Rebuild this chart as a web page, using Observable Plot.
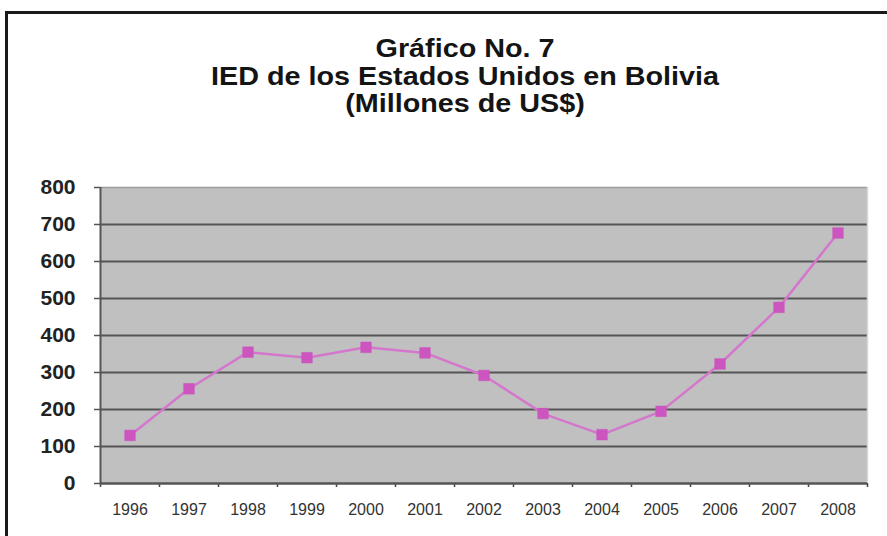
<!DOCTYPE html>
<html>
<head>
<meta charset="utf-8">
<script src="https://cdn.jsdelivr.net/npm/d3@7"></script>
<script src="https://cdn.jsdelivr.net/npm/@observablehq/plot@0.6"></script>
<style>
  html, body { margin: 0; padding: 0; background: #fff; overflow: hidden; }
  #wrap { position: relative; width: 887px; height: 536px; font-family: "Liberation Sans", Arial, sans-serif; }
  #frame { position: absolute; left: 5px; top: 11px; width: 900px; height: 620px; border: 3px solid #1a1a1a; box-sizing: border-box; pointer-events: none; }
  #title { position: absolute; left: 0; top: 0; width: 930px; height: 160px; text-align: center; }
  #title div { position: absolute; left: 0; width: 930px; font-weight: bold; font-size: 25px; color: #141414; line-height: 1; transform: scaleX(1.15); transform-origin: 465px 0; }
  #chart { position: absolute; left: 0; top: 160px; }
</style>
</head>
<body>
<div id="wrap">
  <div id="title">
    <div style="top:36px">Gráfico No. 7</div>
    <div style="top:64px">IED de los Estados Unidos en Bolivia</div>
    <div style="top:91px">(Millones de US$)</div>
  </div>
  <div id="chart"></div>
  <div id="frame"></div>
</div>
<script>
const years = [1996, 1997, 1998, 1999, 2000, 2001, 2002, 2003, 2004, 2005, 2006, 2007, 2008];
const values = [130, 256, 355, 340, 368, 353, 292, 189, 132, 195, 323, 476, 677];
const yTicks = [0, 100, 200, 300, 400, 500, 600, 700, 800];

const data = years.map((y, i) => ({year: y, value: values[i]}));
const bounds = [years[0] - 0.5, ...years.map(y => y + 0.5)];
const gridTicks = yTicks.slice(1, -1);

const chart = Plot.plot({
  width: 887,
  height: 376,
  marginLeft: 100,
  marginRight: 20,
  marginTop: 27,
  marginBottom: 53,
  style: {fontFamily: '"Liberation Sans", Arial, sans-serif', background: "transparent"},
  x: {type: "linear", domain: [years[0] - 0.5, years[years.length - 1] + 0.5]},
  y: {domain: [0, 800]},
  marks: [
    Plot.frame({fill: "#c0c0c0", stroke: null}),
    Plot.ruleY([yTicks[yTicks.length - 1]], {stroke: "#9a9a9a", strokeWidth: 1.5}),
    Plot.ruleY(gridTicks, {stroke: "#555", strokeWidth: 2}),
    Plot.ruleX([bounds[bounds.length - 1]], {stroke: "#d8d8d8", strokeWidth: 1.5}),
    Plot.axisY({ticks: yTicks, tickSize: 6, tickPadding: 19, fontSize: 21, fontWeight: "bold", color: "#222", stroke: "#555", strokeWidth: 1.5, label: null, tickFormat: d => String(d)}),
    Plot.axisX({ticks: bounds, tickSize: 4, tickFormat: () => "", stroke: "#444", strokeWidth: 1.5, label: null}),
    Plot.axisX({ticks: years, tickSize: 0, tickPadding: 20, fontSize: 16, color: "#333", label: null, tickFormat: d => String(d), style: {letterSpacing: "0.8px"}}),
    Plot.ruleX([bounds[0]], {y1: 0, y2: 800, stroke: "#555", strokeWidth: 2}),
    Plot.ruleY([0], {stroke: "#555", strokeWidth: 2.5}),
    Plot.line(data, {x: "year", y: "value", stroke: "#d477cc", strokeWidth: 2.5}),
    Plot.dot(data, {x: "year", y: "value", symbol: "square", r: 6, fill: "#cc55bf", stroke: "#cc55bf", strokeWidth: 0.5})
  ]
});
document.getElementById("chart").appendChild(chart);
</script>
</body>
</html>
